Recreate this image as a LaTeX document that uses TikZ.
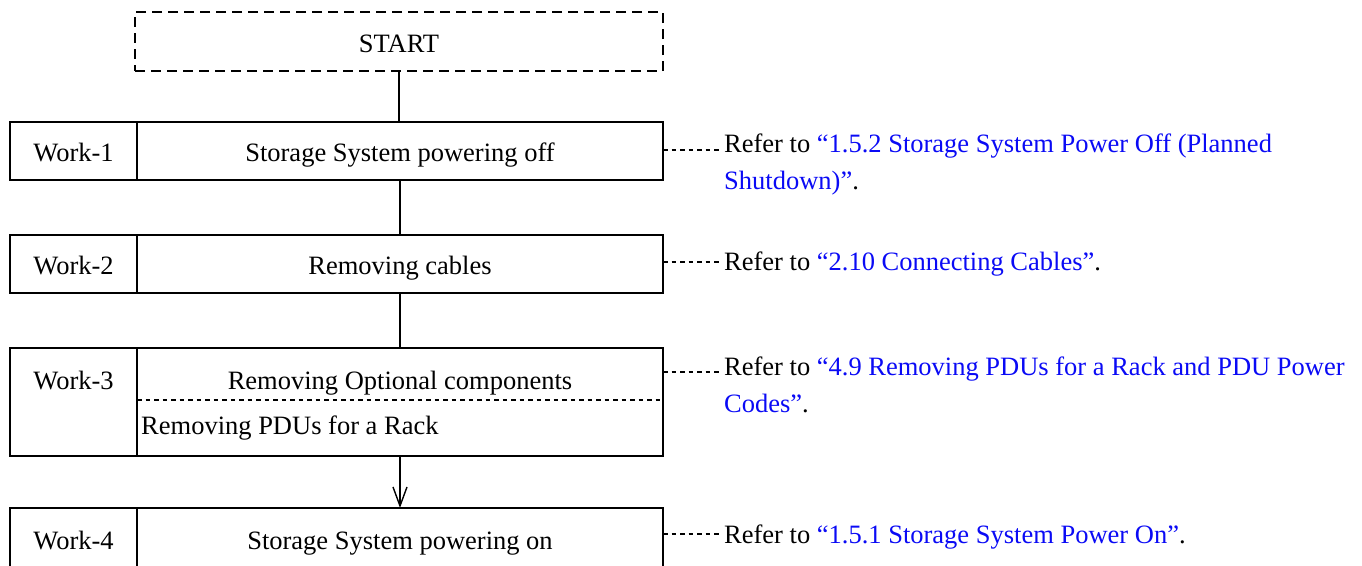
\documentclass[tikz,border=0pt]{standalone}
\usepackage{xcolor}
\usepackage{fontspec}
\setmainfont{Liberation Serif}
\usetikzlibrary{positioning}
\usetikzlibrary{arrows.meta}
\definecolor{refblue}{RGB}{10,10,245}
\newcommand{\reflink}[1]{\textcolor{refblue}{#1}}
\tikzset{%
  txt/.style = {font=\fontsize{26.5pt}{37pt}\selectfont,inner sep=0pt},
  box/.style = {txt,rectangle,draw,solid,line width=1.4pt,outer sep=0pt,
        minimum height=58pt,text height=28pt,text depth=6.4pt},
  labbox/.style = {box,minimum width=127pt},
  taskbox/.style = {box,minimum width=526pt},
  startbox/.style = {box,minimum width=528pt,minimum height=59pt,
        dash pattern=on 10pt off 6pt},
  flow/.style = {line width=1.4pt},
  refline/.style = {line width=1.2pt,dash pattern=on 4.5pt off 4pt},
  reftext/.style = {txt,anchor=base west}
}
\begin{document}
\begin{tikzpicture}[x=1pt,y=-1pt]
    \useasboundingbox (0,0) rectangle (1362,565);
    \clip (0,0) rectangle (1362,565);
    \node[startbox] (start) at (399,41.5) {START};
    % work steps
    \node[taskbox] (w1) at (400,151) {Storage System powering off};
    \node[labbox] (w1lab) [left=0pt of w1] {Work-1};
    \node[taskbox] (w2) at (400,264) {Removing cables};
    \node[labbox] (w2lab) [left=0pt of w2] {Work-2};
    \node[taskbox,minimum height=108pt] (w3) at (400,402) {};
    \node[labbox,minimum height=108pt] (w3lab) [left=0pt of w3] {};
    \node[taskbox,minimum height=62pt] (w4) at (400,539) {Storage System powering on};
    \node[labbox,minimum height=62pt] (w4lab) [left=0pt of w4] {Work-4};
    % inside work-3
    \coordinate (div) at (400,400);
    \draw[refline] (w3.west |- div) -- (w3.east |- div);
    \node[txt,anchor=base] (w3name) at (73.5,389) {Work-3};
    \node[txt,anchor=base] (w3opt) at (400,389) {Removing Optional components};
    \node[txt,anchor=base west] (w3pdu) at (141,434) {Removing PDUs for a Rack};
    % flow
    \draw[flow] (start.south) -- (start.south |- w1.north);
    \draw[flow] (w1) -- (w2);
    \draw[flow] (w2) -- (w3);
    \draw[flow,-{Straight Barb[length=19pt,width=14pt,line width=1.4pt]}] (w3) -- (w4);
    % references
    \coordinate (r1) at (720,150);
    \coordinate (r2) at (720,262);
    \coordinate (r3) at (720,372);
    \coordinate (r4) at (720,534);
    \draw[refline] (w1.east |- r1) -- (r1);
    \draw[refline] (w2.east |- r2) -- (r2);
    \draw[refline] (w3.east |- r3) -- (r3);
    \draw[refline] (w4.east |- r4) -- (r4);
    \node[reftext] (t1) at (724,152) {Refer to \reflink{“1.5.2 Storage System Power Off (Planned}};
    \node[reftext] (t1b) at (724,189) {\reflink{Shutdown)”}.};
    \node[reftext] (t2) at (724,270) {Refer to \reflink{“2.10 Connecting Cables”}.};
    \node[reftext] (t3) at (724,375) {Refer to \reflink{“4.9 Removing PDUs for a Rack and PDU Power}};
    \node[reftext] (t3b) at (724,412) {\reflink{Codes”}.};
    \node[reftext] (t4) at (724,543) {Refer to \reflink{“1.5.1 Storage System Power On”}.};
\end{tikzpicture}
\end{document}
